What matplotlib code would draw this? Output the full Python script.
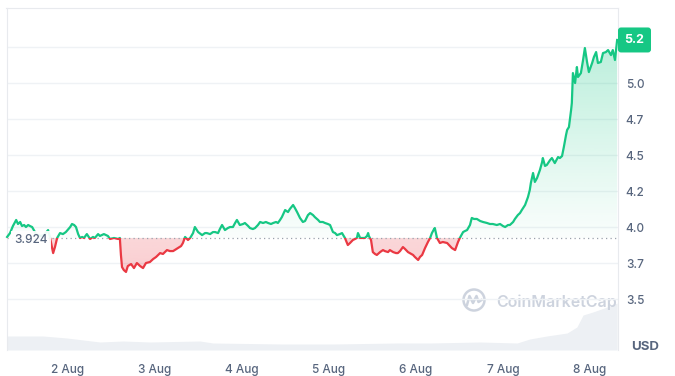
import numpy as np
import matplotlib
matplotlib.use("Agg")
import matplotlib.pyplot as plt
from matplotlib.patches import Rectangle, Circle, FancyBboxPatch
from matplotlib.path import Path
from matplotlib.transforms import IdentityTransform
from matplotlib.colors import to_rgb

plt.rcParams['font.family'] = ['Inter', 'DejaVu Sans']

# ---------------- data ----------------
# time in hours since 1 Aug 00:00, price in USD
t_hours = [7.2, 8.0, 8.8, 9.7, 10.2, 10.8, 11.3, 11.9, 12.4, 13.0, 13.5, 14.1, 15.2, 16.3, 17.4, 18.5, 19.0, 19.6, 19.9, 20.4,
           21.0, 21.8, 22.6, 23.4, 24.6, 25.1, 25.7, 26.2, 26.8, 27.3, 27.9, 28.4, 29.2, 30.1, 30.9, 31.4, 32.3, 32.8, 33.9, 35.0,
           35.6, 36.7, 37.8, 38.3, 38.6, 38.9, 39.4, 40.0, 40.5, 41.4, 42.2, 43.0, 43.9, 44.7, 45.5, 46.6, 47.5, 48.3, 49.4, 50.2,
           51.3, 52.1, 53.0, 54.3, 55.2, 55.7, 56.3, 57.1, 57.7, 58.5, 59.0, 59.9, 61.0, 61.8, 62.3, 63.2, 64.0, 64.6, 65.4, 65.9,
           66.5, 67.3, 68.1, 68.7, 69.5, 70.1, 70.6, 71.4, 72.3, 72.8, 73.7, 74.2, 75.0, 75.6, 76.4, 77.0, 77.8, 78.6, 79.2, 80.0,
           80.6, 81.4, 81.9, 82.5, 83.0, 83.9, 84.7, 85.2, 86.1, 86.6, 87.2, 88.0, 88.8, 89.4, 90.2, 90.8, 91.6, 92.1, 93.0, 93.5,
           94.3, 94.9, 95.7, 96.3, 97.1, 97.7, 98.2, 99.0, 99.6, 100.4, 101.2, 101.8, 102.6, 103.2, 103.7, 104.0, 104.6, 105.1,
           105.9, 106.5, 106.8, 107.0, 107.6, 108.1, 108.7, 109.2, 110.1, 110.9, 111.4, 112.3, 112.8, 113.7, 114.5, 115.0, 115.6,
           116.4, 117.0, 117.8, 118.3, 119.2, 119.7, 120.6, 121.1, 121.7, 122.5, 123.3, 123.9, 124.4, 125.0, 125.2, 125.8, 126.6,
           127.4, 128.6, 129.4, 129.9, 130.8, 131.6, 132.1, 133.0, 133.5, 134.1, 134.9, 135.4, 136.0, 136.8, 137.7, 138.5, 139.6,
           140.4, 141.2, 142.3, 143.2, 144.0, 144.6, 145.4, 145.9, 146.8, 147.3, 148.1, 148.7, 149.2, 150.1, 150.9, 151.4, 151.7,
           152.3, 152.8, 153.4, 154.2, 154.8, 155.0, 155.6, 156.1, 157.0, 157.5, 158.3, 159.2, 159.7, 160.3, 160.8, 161.4, 161.7,
           162.2, 162.8, 163.0, 163.3, 163.9, 164.4, 164.7, 165.5, 166.1, 166.6, 167.2, 167.7, 168.6, 169.1, 169.7, 170.2, 171.0,
           171.6, 172.4, 173.0, 173.8, 174.3, 174.9, 175.5]
price = [3.931, 3.958, 4.007, 4.049, 4.021, 4.035, 4.007, 4.014, 4.000, 4.014, 4.007, 4.000, 3.951, 3.938, 3.944, 3.979,
         3.931, 3.854, 3.819, 3.861, 3.924, 3.958, 3.951, 3.965, 4.000, 4.021, 4.014, 4.000, 3.951, 3.924, 3.931, 3.924,
         3.951, 3.917, 3.931, 3.924, 3.951, 3.938, 3.951, 3.938, 3.917, 3.924, 3.917, 3.924, 3.806, 3.722, 3.701, 3.688,
         3.729, 3.743, 3.715, 3.750, 3.729, 3.715, 3.750, 3.757, 3.778, 3.792, 3.819, 3.813, 3.840, 3.833, 3.833, 3.854,
         3.868, 3.889, 3.931, 3.910, 3.924, 3.958, 4.000, 3.965, 3.944, 3.958, 3.958, 3.951, 3.965, 3.965, 3.958, 3.986,
         4.014, 3.979, 3.993, 4.000, 4.000, 4.028, 4.049, 4.014, 4.021, 4.028, 4.007, 3.993, 3.986, 3.993, 4.014, 4.035,
         4.028, 4.035, 4.028, 4.021, 4.028, 4.035, 4.028, 4.049, 4.069, 4.118, 4.104, 4.125, 4.153, 4.132, 4.104, 4.063,
         4.035, 4.042, 4.083, 4.097, 4.083, 4.069, 4.049, 4.035, 4.035, 4.028, 4.021, 4.014, 3.965, 3.958, 3.944, 3.951,
         3.958, 3.924, 3.875, 3.889, 3.910, 3.917, 3.924, 3.958, 3.924, 3.924, 3.924, 3.938, 3.958, 3.938, 3.910, 3.826,
         3.813, 3.806, 3.826, 3.840, 3.833, 3.826, 3.840, 3.826, 3.819, 3.819, 3.833, 3.861, 3.847, 3.826, 3.819, 3.806,
         3.792, 3.771, 3.792, 3.806, 3.854, 3.896, 3.924, 3.958, 3.986, 3.993, 3.924, 3.889, 3.896, 3.889, 3.868, 3.854,
         3.840, 3.896, 3.924, 3.965, 3.972, 3.979, 4.014, 4.063, 4.056, 4.056, 4.042, 4.035, 4.028, 4.021, 4.021, 4.014,
         4.021, 4.007, 4.000, 4.014, 4.014, 4.035, 4.056, 4.083, 4.097, 4.118, 4.153, 4.208, 4.257, 4.306, 4.375, 4.313,
         4.340, 4.396, 4.451, 4.479, 4.424, 4.431, 4.465, 4.479, 4.444, 4.486, 4.479, 4.493, 4.556, 4.639, 4.674, 4.694,
         4.813, 4.861, 5.069, 5.000, 5.111, 5.042, 5.069, 5.160, 5.243, 5.146, 5.076, 5.139, 5.181, 5.215, 5.139, 5.146,
         5.208, 5.215, 5.229, 5.194, 5.229, 5.160, 5.299]

base_price = 3.924
base_label = "3.924"
last_label = "5.2"

# volume (relative, millions USD)
vol_hours = [7.2, 17.1, 23.7, 32.8, 39.2, 46.6, 60.4, 64.0, 83.3, 97.1, 114.8, 123.9, 137.7, 147.9, 151.4, 156.1,
             161.7, 164.4, 166.1, 168.8, 172.7, 175.5]
vol_m = [14, 14, 12, 8, 9, 8, 9, 7, 6, 6, 7, 7, 8, 7, 11, 14, 17, 23, 35, 38, 43, 47]

y_ticks = [3.5, 3.75, 4.0, 4.25, 4.5, 4.75, 5.0, 5.25]
y_labels = ["3.5", "3.7", "4.0", "4.2", "4.5", "4.7", "5.0", ""]
x_ticks = [24, 48, 72, 96, 120, 144, 168]
x_labels = ["2 Aug", "3 Aug", "4 Aug", "5 Aug", "6 Aug", "7 Aug", "8 Aug"]

# ---------------- style ----------------
GREEN = "#16c784"
RED = "#ea3943"
TXT = "#58667e"
GRID = "#eff2f5"

t = np.array(t_hours)
p = np.array(price)

W, H = 675, 376
fig = plt.figure(figsize=(W / 100, H / 100), dpi=100)
rect = [6.5 / W, 1 - 350 / H, 611 / W, 342 / H]
axv = fig.add_axes(rect, zorder=0)
ax = fig.add_axes(rect, zorder=1, sharex=axv)
ax.patch.set_visible(False)

XL = (7.03, 175.6)
YL = (3.146, 5.521)

# volume
axv.fill_between(vol_hours, vol_m, 0, color="#edf0f4", lw=0)
axv.set_ylim(0, 342)
axv.set_xlim(*XL)
axv.axis("off")

# fills (gradients clipped to fill regions)
fg = ax.fill_between(t, p, base_price, where=p >= base_price, interpolate=True,
                     facecolor="none", edgecolor="none")
fr = ax.fill_between(t, p, base_price, where=p <= base_price, interpolate=True,
                     facecolor="none", edgecolor="none")

n = 256
g = np.zeros((n, 1, 4))
g[:, 0, :3] = to_rgb(GREEN)
g[:, 0, 3] = np.linspace(0.02, 0.30, n)
img_g = ax.imshow(g, extent=(XL[0], XL[1], base_price, 5.32), origin="lower",
                  aspect="auto", interpolation="bilinear", zorder=1)
img_g.set_clip_path(Path.make_compound_path(*fg.get_paths()), ax.transData)

r = np.zeros((n, 1, 4))
r[:, 0, :3] = to_rgb(RED)
r[:, 0, 3] = np.linspace(0.26, 0.20, n)
img_r = ax.imshow(r, extent=(XL[0], XL[1], 3.65, base_price), origin="lower",
                  aspect="auto", interpolation="bilinear", zorder=1)
img_r.set_clip_path(Path.make_compound_path(*fr.get_paths()), ax.transData)

# baseline
ax.axhline(base_price, color="#9aa1ac", lw=0.9, ls=(0, (1, 2.6)), zorder=2)

# price line, green above baseline, red below
lg, = ax.plot(t, p, color=GREEN, lw=1.6, zorder=3, solid_joinstyle="round")
lr, = ax.plot(t, p, color=RED, lw=1.6, zorder=3, solid_joinstyle="round")
clip_up = Rectangle((XL[0] - 10, base_price), 400, 10, transform=ax.transData)
clip_dn = Rectangle((XL[0] - 10, base_price - 10), 400, 10, transform=ax.transData)
lg.set_clip_path(clip_up)
lr.set_clip_path(clip_dn)

ax.set_xlim(*XL)
ax.set_ylim(*YL)

# axes styling
ax.yaxis.tick_right()
ax.set_yticks(y_ticks)
ax.set_yticklabels(y_labels)
ax.set_xticks(x_ticks)
ax.set_xticklabels(x_labels)
ax.tick_params(axis="y", length=0, pad=6, labelsize=8.5, labelcolor=TXT)
ax.tick_params(axis="x", length=0, pad=10, labelsize=8.5, labelcolor=TXT)
for lab in ax.get_yticklabels() + ax.get_xticklabels():
    lab.set_fontweight("medium")
ax.grid(axis="y", color=GRID, lw=1.0)
ax.set_axisbelow(True)
for s in ["left", "right", "top"]:
    ax.spines[s].set_color("#e8eaee")
    ax.spines[s].set_linewidth(0.8)
ax.spines["bottom"].set_visible(False)

# base price label
ax.text(9.1, 3.910, base_label, ha="left", va="center", fontsize=8.5, color=TXT,
        fontweight="medium", zorder=4,
        bbox=dict(facecolor="white", edgecolor="none", pad=2.5, alpha=0.92))

# last price badge
yd = ax.transData.transform((t[-1], p[-1]))[1]
badge = FancyBboxPatch((618, yd - 12.5), 33, 25, boxstyle="round,pad=0,rounding_size=3",
                       transform=IdentityTransform(), fc=GREEN, ec="none", zorder=5)
fig.add_artist(badge)
fig.text(634.5, yd, last_label, transform=IdentityTransform(), ha="center", va="center",
         color="white", fontsize=9, fontweight="bold", zorder=6)

# USD label
fig.text(631 / W, 1 - 347 / H, "USD", ha="left", va="center", fontsize=9.5,
         fontweight="bold", color=TXT)

# watermark
WM = "#cdd3de"
fig.text(496 / W, 1 - 302 / H, "CoinMarketCap", ha="left", va="center", fontsize=11.5,
         fontweight="semibold", color=WM, zorder=0.5)
cx, cy = 474, H - 300
fig.add_artist(Circle((cx, cy), 10.5, transform=IdentityTransform(), fill=False,
                      lw=1.8, ec=WM, zorder=0.5))
zz = np.array([[-7, -5], [-4.5, 4], [-1, -3], [2.5, 4], [4.5, -2], [7.5, 0]])
fig.add_artist(plt.Line2D(cx + zz[:, 0], cy + zz[:, 1], transform=IdentityTransform(),
                          color=WM, lw=1.8, solid_joinstyle="round", zorder=0.5))

fig.savefig("out.png", dpi=100)
